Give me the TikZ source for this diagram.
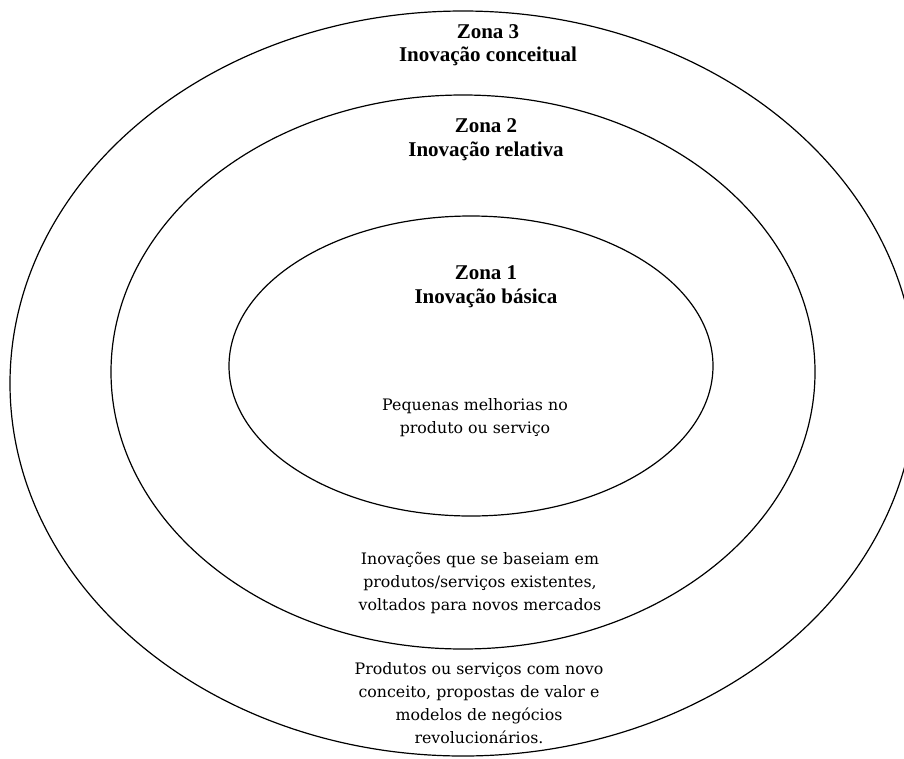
\documentclass[tikz,border=0pt]{standalone}
\usepackage{fontspec}
\setmainfont{DejaVu Serif}
\newfontfamily\headfont{Liberation Serif}
\usetikzlibrary{shapes.geometric}

\tikzset{
  zone/.style={draw=black, line width=1.2pt, ellipse, inner sep=0pt, fill=none},
  heading/.style={font=\headfont\bfseries\fontsize{21}{23.5}\selectfont, align=center, inner sep=0pt},
  desc/.style={font=\fontsize{15.8}{22.8}\selectfont, align=center, inner sep=0pt}
}

\begin{document}
\begin{tikzpicture}[x=1pt, y=-1pt]
  \useasboundingbox (0,0) rectangle (904,758);
  \clip (0,0) rectangle (904,758);

  % concentric zones, outermost first
  \node[zone, minimum width=906pt, minimum height=745pt] (zone3) at (463,383.5) {};
  \node[zone, minimum width=704pt, minimum height=554pt] (zone2) at (463,372) {};
  \node[zone, minimum width=484pt, minimum height=300pt] (zone1) at (471,366) {};

  % zone titles
  \node[heading] (title3) at (488,45) {Zona 3\\Inovação conceitual};
  \node[heading] (title2) at (486,139.5) {Zona 2\\Inovação relativa};
  \node[heading] (title1) at (486,286.5) {Zona 1\\Inovação básica};

  % zone descriptions
  \node[desc] (text1) at (475,417.5) {Pequenas melhorias no\\produto ou serviço};
  \node[desc] (text2) at (480,583) {Inovações que se baseiam em\\produtos/serviços existentes,\\voltados para novos mercados};
  \node[desc] (text3) at (479,703) {Produtos ou serviços com novo\\conceito, propostas de valor e\\modelos de negócios\\revolucionários.};
\end{tikzpicture}
\end{document}
